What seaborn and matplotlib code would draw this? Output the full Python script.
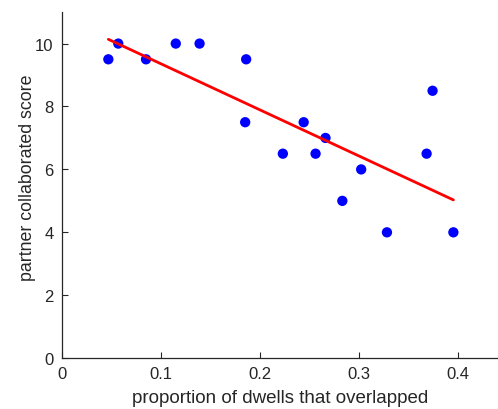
import numpy as np
import pandas as pd
import matplotlib
matplotlib.use("Agg")
import matplotlib.pyplot as plt
import seaborn as sns

overlap = [0.047, 0.057, 0.085, 0.115, 0.139, 0.186, 0.185, 0.223, 0.244, 0.256,
           0.266, 0.302, 0.283, 0.328, 0.395, 0.374, 0.368]
score = [9.5, 10, 9.5, 10, 10, 9.5, 7.5, 6.5, 7.5, 6.5,
         7, 6, 5, 4, 4, 8.5, 6.5]
xticks = [0, 0.1, 0.2, 0.3, 0.4]
yticks = [0, 2, 4, 6, 8, 10]

df = pd.DataFrame({"overlap": overlap, "score": score})

sns.set_style("white")
plt.rcParams['font.family'] = ['Liberation Sans', 'DejaVu Sans']

fig = plt.figure(figsize=(4.98, 4.10), dpi=100)
ax = fig.add_axes([0.124, 0.124, 0.876, 0.844])

sns.regplot(data=df, x="overlap", y="score", ax=ax, ci=None, truncate=True,
            scatter_kws=dict(color="#0000ff", s=55, alpha=1, edgecolor="none"),
            line_kws=dict(color="#ff0000", lw=2))

ax.set_xlim(0, 0.44)
ax.set_ylim(0, 11)
ax.set_xticks(xticks)
ax.set_xticklabels([f"{t:g}" for t in xticks])
ax.set_yticks(yticks)
ax.set_xlabel("proportion of dwells that overlapped", fontsize=13.5, color="#262626", labelpad=5.5)
ax.set_ylabel("partner collaborated score", fontsize=12.8, color="#262626")
ax.yaxis.set_label_coords(-0.06, 0.525)
ax.tick_params(direction="in", length=4, width=0.8, colors="#262626", labelsize=12,
               bottom=True, left=True)
ax.tick_params(axis="x", pad=6)
ax.tick_params(axis="y", pad=6)
sns.despine(ax=ax)
for s in ["left", "bottom"]:
    ax.spines[s].set_color("#262626")
    ax.spines[s].set_linewidth(0.9)

fig.savefig("out.png", dpi=100)
